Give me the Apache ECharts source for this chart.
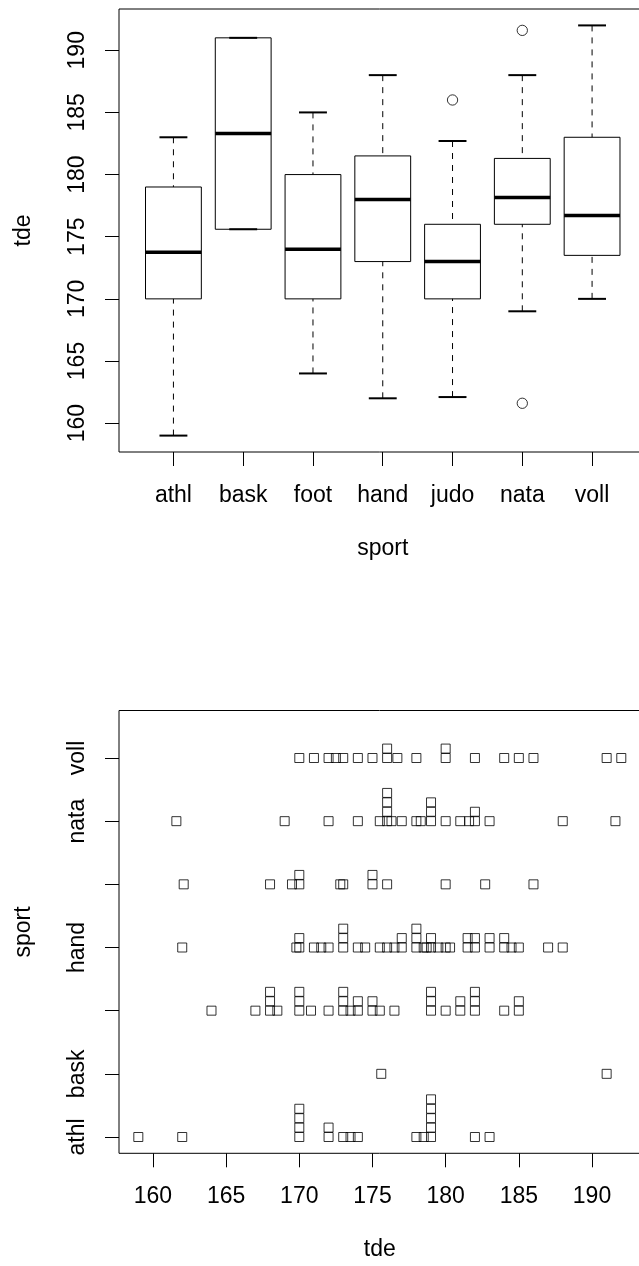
<!DOCTYPE html>
<html>
<head>
<meta charset="utf-8">
<script src="https://cdn.jsdelivr.net/npm/echarts@6/dist/echarts.min.js"></script>
<style>
html,body{margin:0;padding:0;background:#fff;}
#chart{width:639px;height:1266px;}
</style>
</head>
<body>
<div id="chart"></div>
<script>
// ---- categories and tick labels ----
const categories = ['athl', 'bask', 'foot', 'hand', 'judo', 'nata', 'voll'];
const tdeTicks = [160, 165, 170, 175, 180, 185, 190];
const sportTicks = [1, 2, 3, 4, 5, 6, 7];
const sportLabelTicks = [1, 2, 4, 6, 7];

// ---- boxplot statistics ----
const whiskerLow  = [159,    175.6, 164, 162,   162.1, 169,    170];
const quartile1   = [170,    175.6, 170, 173,   170,   176,    173.5];
const medianVal   = [173.75, 183.3, 174, 178,   173,   178.15, 176.7];
const quartile3   = [179,    191,   180, 181.5, 176,   181.3,  183];
const whiskerHigh = [183,    191,   185, 188,   182.7, 188,    192];
const outlierSport = ['judo', 'nata', 'nata'];
const outlierValue = [186, 191.6, 161.6];

// ---- individual tde values per sport ----
const athl = [159, 162, 170, 170, 170, 170, 172, 172, 173, 173.5, 174, 178, 178.5, 179, 179, 179, 179, 179, 182, 183];
const bask = [175.6, 191];
const foot = [164, 167, 168, 168, 168, 168.5, 170, 170, 170, 170.8, 172, 173, 173, 173, 173.5, 174, 174, 175, 175, 175.5, 176.5, 179, 179, 179, 180, 181, 181, 182, 182, 182, 184, 185, 185];
const hand = [162, 169.8, 170, 170, 171, 171.5, 172, 173, 173, 173, 174, 174.5, 175.5, 176, 176.5, 177, 177, 178, 178, 178, 178.5, 178.7, 179, 179, 179.5, 180, 180.3, 181.5, 181.5, 182, 182, 183, 183, 184, 184, 184.5, 185, 187, 188];
const judo = [162.1, 168, 169.5, 170, 170, 172.8, 173, 175, 175, 176, 180, 182.7, 186];
const nata = [161.6, 169, 172, 174, 175.5, 176, 176, 176, 176, 176.3, 177, 178, 178.3, 179, 179, 179, 180, 181, 181.6, 182, 182, 183, 188, 191.6];
const voll = [170, 171, 172, 172.5, 173, 174, 175, 176, 176, 176.7, 178, 180, 180, 182, 184, 185, 186, 191, 192];
const stripValues = [athl, bask, foot, hand, judo, nata, voll];

// ---- style / layout constants ----
const FONT = '"Liberation Sans", Arial, Helvetica, sans-serif';
const FS = 23;
const STACK_OFFSET = 0.149; // stacking step of repeated values (sport units)

// ---- build series data ----
const boxData = categories.map((c, i) => [i + 1, whiskerLow[i], quartile1[i], medianVal[i], quartile3[i], whiskerHigh[i]]);
const outlierData = outlierSport.map((s, i) => [categories.indexOf(s) + 1, outlierValue[i]]);
const stripPoints = [];
stripValues.forEach((vals, i) => {
  const seen = {};
  vals.forEach(v => {
    const k = seen[v] || 0;
    seen[v] = k + 1;
    stripPoints.push([v, i + 1 + k * STACK_OFFSET]);
  });
});

function renderBox(params, api) {
  const x = api.value(0);
  const lo = api.coord([x, api.value(1)]);
  const b1 = api.coord([x, api.value(2)]);
  const md = api.coord([x, api.value(3)]);
  const b3 = api.coord([x, api.value(4)]);
  const hi = api.coord([x, api.value(5)]);
  const halfBox = api.size([0.4, 0])[0];
  const halfCap = api.size([0.2, 0])[0];
  const cx = lo[0];
  const dash = {stroke: '#000', lineWidth: 1, lineDash: [6, 6]};
  const cap = {stroke: '#000', lineWidth: 2};
  return {
    type: 'group',
    children: [
      {type: 'line', shape: {x1: cx, y1: lo[1], x2: cx, y2: b1[1]}, style: dash},
      {type: 'line', shape: {x1: cx, y1: hi[1], x2: cx, y2: b3[1]}, style: dash},
      {type: 'line', shape: {x1: cx - halfCap, y1: lo[1], x2: cx + halfCap, y2: lo[1]}, style: cap},
      {type: 'line', shape: {x1: cx - halfCap, y1: hi[1], x2: cx + halfCap, y2: hi[1]}, style: cap},
      {type: 'rect', shape: {x: cx - halfBox, y: b3[1], width: 2 * halfBox, height: b1[1] - b3[1]},
       style: {stroke: '#000', fill: 'none', lineWidth: 1}},
      {type: 'line', shape: {x1: cx - halfBox, y1: md[1], x2: cx + halfBox, y2: md[1]},
       style: {stroke: '#000', lineWidth: 3.5}}
    ]
  };
}

const textStyle = {color: '#000', fontSize: FS, fontFamily: FONT};
const tickStyle = {show: true, length: 14, lineStyle: {color: '#000', width: 1}};

const chart = echarts.init(document.getElementById('chart'), null, {renderer: 'canvas'});
chart.setOption({
  animation: false,
  backgroundColor: '#fff',
  grid: [
    {left: 119, top: 9, width: 527.5, height: 443, show: true, borderColor: '#000', borderWidth: 1,
     backgroundColor: 'transparent', containLabel: false, outerBoundsMode: 'none'},
    {left: 119, top: 710.5, width: 521.6, height: 442.8, show: true, borderColor: '#000', borderWidth: 1,
     backgroundColor: 'transparent', containLabel: false, outerBoundsMode: 'none'}
  ],
  xAxis: [
    {
      type: 'value', gridIndex: 0, min: 0.22, max: 7.78,
      axisLine: {show: false}, splitLine: {show: false},
      axisTick: Object.assign({customValues: sportTicks}, tickStyle),
      axisLabel: Object.assign({customValues: sportTicks, margin: 32,
        formatter: v => categories[Math.round(v) - 1]}, textStyle),
      name: 'sport', nameLocation: 'middle', nameGap: 85, nameTextStyle: textStyle
    },
    {
      type: 'value', gridIndex: 1, min: 157.68, max: 193.32,
      axisLine: {show: false}, splitLine: {show: false},
      axisTick: Object.assign({customValues: tdeTicks}, tickStyle),
      axisLabel: Object.assign({customValues: tdeTicks, margin: 32}, textStyle),
      name: 'tde', nameLocation: 'middle', nameGap: 85, nameTextStyle: textStyle
    }
  ],
  yAxis: [
    {
      type: 'value', gridIndex: 0, min: 157.68, max: 193.32,
      axisLine: {show: false}, splitLine: {show: false},
      axisTick: Object.assign({customValues: tdeTicks}, tickStyle),
      axisLabel: Object.assign({customValues: tdeTicks, rotate: 90, margin: 30}, textStyle),
      name: 'tde', nameLocation: 'middle', nameRotate: 90, nameGap: 84, nameTextStyle: textStyle
    },
    {
      type: 'value', gridIndex: 1, min: 0.742, max: 7.752,
      axisLine: {show: false}, splitLine: {show: false},
      axisTick: Object.assign({customValues: sportTicks}, tickStyle),
      axisLabel: Object.assign({customValues: sportLabelTicks, rotate: 90, margin: 30,
        formatter: v => categories[Math.round(v) - 1]}, textStyle),
      name: 'sport', nameLocation: 'middle', nameRotate: 90, nameGap: 84, nameTextStyle: textStyle
    }
  ],
  series: [
    {
      type: 'custom', xAxisIndex: 0, yAxisIndex: 0,
      renderItem: renderBox,
      encode: {x: 0, y: [1, 2, 3, 4, 5]},
      data: boxData, silent: true
    },
    {
      type: 'scatter', xAxisIndex: 0, yAxisIndex: 0,
      symbol: 'circle', symbolSize: 10.3,
      itemStyle: {color: 'rgba(0,0,0,0)', borderColor: '#000', borderWidth: 1},
      data: outlierData, silent: true
    },
    {
      type: 'scatter', xAxisIndex: 1, yAxisIndex: 1,
      symbol: 'rect', symbolSize: 9,
      itemStyle: {color: 'rgba(0,0,0,0)', borderColor: '#000', borderWidth: 1},
      data: stripPoints, silent: true
    }
  ]
});
</script>
</body>
</html>
